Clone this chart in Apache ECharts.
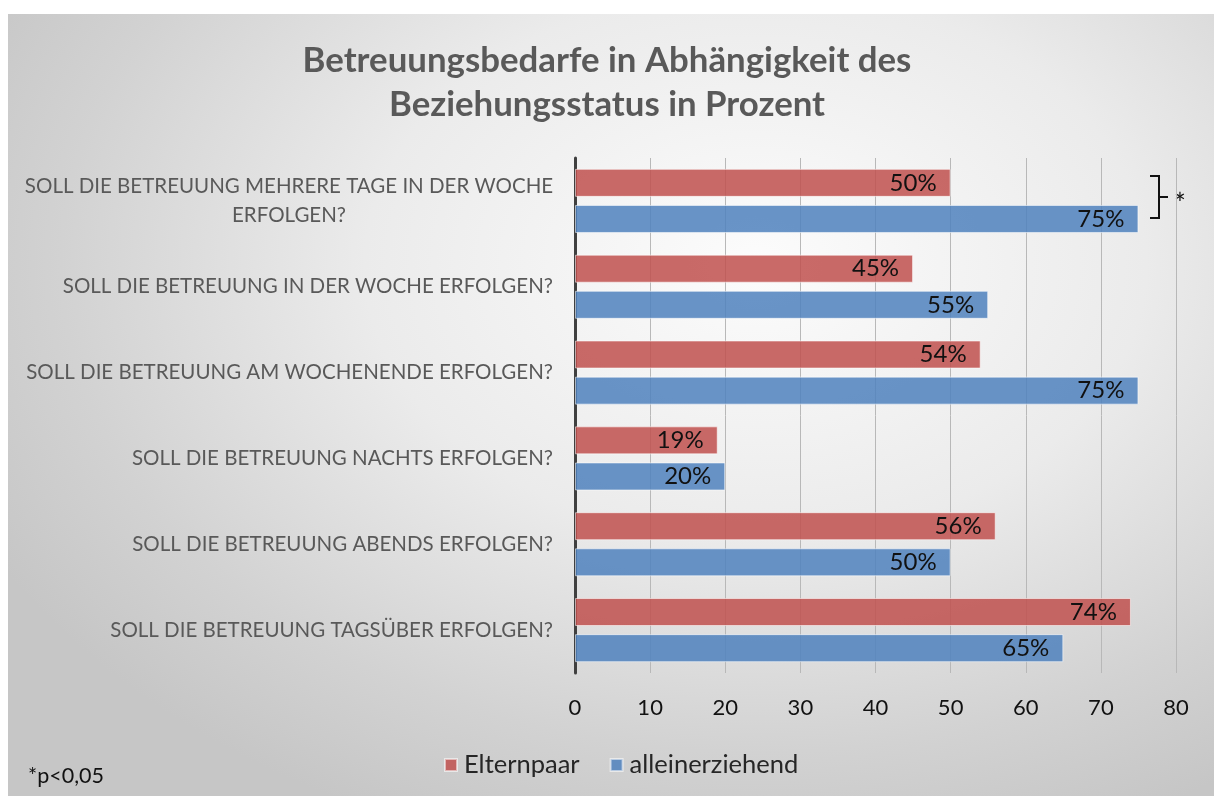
<!DOCTYPE html>
<html>
<head>
<meta charset="utf-8">
<script src="https://cdn.jsdelivr.net/npm/echarts@6/dist/echarts.min.js"></script>
<style>
  html, body { margin: 0; padding: 0; background: #ffffff; }
  #bg { position: absolute; left: 8px; top: 14px; width: 1206px; height: 782px;
        background: radial-gradient(ellipse 72% 78% at 62% 32%, #fcfcfc 0%, #ebebeb 45%, #d2d2d2 80%, #c6c6c6 100%); }
  #chart { position: absolute; left: 0; top: 0; width: 1214px; height: 796px; }
</style>
</head>
<body>
<div id="bg"></div>
<div id="chart"></div>
<script>
const titleText = 'Betreuungsbedarfe in Abhängigkeit des\nBeziehungsstatus in Prozent';
const categories = [
  'SOLL DIE BETREUUNG MEHRERE TAGE IN DER WOCHE ERFOLGEN?',
  'SOLL DIE BETREUUNG IN DER WOCHE ERFOLGEN?',
  'SOLL DIE BETREUUNG AM WOCHENENDE ERFOLGEN?',
  'SOLL DIE BETREUUNG NACHTS ERFOLGEN?',
  'SOLL DIE BETREUUNG ABENDS ERFOLGEN?',
  'SOLL DIE BETREUUNG TAGSÜBER ERFOLGEN?'
];
const seriesNames = ['Elternpaar', 'alleinerziehend'];
const elternpaar = [50, 45, 54, 19, 56, 74];
const alleinerziehend = [75, 55, 75, 20, 50, 65];
const xTicks = [0, 10, 20, 30, 40, 50, 60, 70, 80];
const footnote = '*p<0,05';
const significanceMark = '*';

const FONT = 'Lato';
const chart = echarts.init(document.getElementById('chart'), null, { renderer: 'canvas' });

function wrapLabel(s) {
  if (s.length > 45) {
    const i = s.lastIndexOf(' ');
    return s.slice(0, i) + '\n' + s.slice(i + 1);
  }
  return s;
}

const yData = categories.map(c => {
  if (c.length > 45) {
    return { value: c, textStyle: { align: 'center', padding: [0, 528, 0, 0], lineHeight: 29 } };
  }
  return c;
});

const option = {
  backgroundColor: 'transparent',
  animation: false,
  title: {
    text: titleText,
    left: 'center',
    top: 34,
    textStyle: { fontFamily: FONT, fontSize: 34.8, fontWeight: 'bold', color: '#595959', lineHeight: 44 }
  },
  legend: {
    data: seriesNames,
    left: 444,
    top: 752,
    itemWidth: 12,
    itemHeight: 12,
    itemGap: 30,
    icon: 'rect',
    padding: 0,
    textStyle: { fontFamily: FONT, fontSize: 25.5, color: '#262626', padding: [0, 0, 0, 2] }
  },
  grid: { left: 575, right: 38, top: 158, bottom: 123, containLabel: false },
  xAxis: {
    type: 'value',
    min: xTicks[0],
    max: xTicks[xTicks.length - 1],
    interval: 10,
    axisLine: { show: false },
    axisTick: { show: false },
    splitLine: { show: true, lineStyle: { color: '#b8b8b8', width: 1 } },
    axisLabel: { fontFamily: FONT, fontSize: 22, color: '#111', margin: 24 }
  },
  yAxis: {
    type: 'category',
    inverse: true,
    data: yData,
    axisLine: { show: true, lineStyle: { color: '#404040', width: 3 } },
    axisTick: { show: false },
    axisLabel: {
      fontFamily: FONT, fontSize: 20.5, color: '#595959', margin: 22,
      formatter: wrapLabel
    }
  },
  series: [
    {
      name: seriesNames[0],
      type: 'bar',
      data: elternpaar,
      barWidth: 28,
      barGap: '29%',
      itemStyle: { color: 'rgba(192,80,77,0.85)', borderColor: 'rgba(255,255,255,0.55)', borderWidth: 1 },
      label: { show: true, position: 'insideRight', distance: 14, formatter: '{c}%', fontFamily: FONT, fontSize: 24, color: '#111' }
    },
    {
      name: seriesNames[1],
      type: 'bar',
      data: alleinerziehend,
      barWidth: 28,
      itemStyle: { color: 'rgba(79,129,189,0.85)', borderColor: 'rgba(255,255,255,0.55)', borderWidth: 1 },
      label: { show: true, position: 'insideRight', distance: 14, formatter: '{c}%', fontFamily: FONT, fontSize: 24, color: '#111' }
    }
  ],
  graphic: [
    {
      type: 'polyline',
      shape: { points: [[1150, 176], [1159, 176], [1159, 218], [1150, 218]] },
      style: { stroke: '#111', lineWidth: 2, fill: null }
    },
    {
      type: 'line',
      shape: { x1: 1159, y1: 197, x2: 1168, y2: 197 },
      style: { stroke: '#111', lineWidth: 2 }
    },
    {
      type: 'text',
      left: 1174, top: 191,
      style: { text: significanceMark, fontFamily: FONT, fontSize: 28, fill: '#111' }
    },
    {
      type: 'text',
      left: 28, top: 765,
      style: { text: footnote, fontFamily: FONT, fontSize: 21.5, fill: '#111' }
    }
  ]
};
chart.setOption(option);
</script>
</body>
</html>
